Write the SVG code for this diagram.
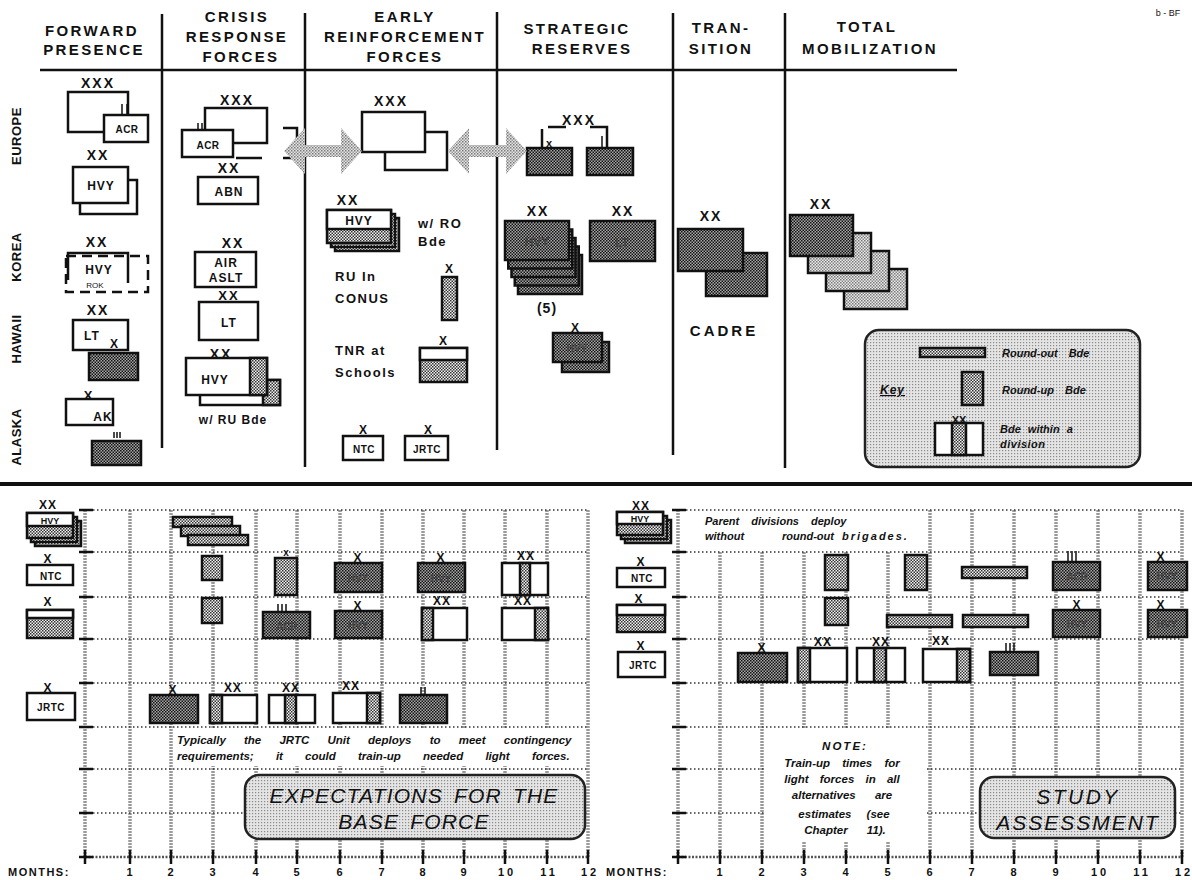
<svg xmlns="http://www.w3.org/2000/svg" width="1192" height="880" viewBox="0 0 1192 880">
<defs>
<pattern id="st" width="3" height="3" patternUnits="userSpaceOnUse"><rect width="3" height="3" fill="#f2f2f2"/><rect width="1.5" height="1.5" fill="#333"/><rect x="1.5" y="1.5" width="1.5" height="1.5" fill="#333"/></pattern>
<pattern id="sd" width="3" height="3" patternUnits="userSpaceOnUse"><rect width="3" height="3" fill="#a8a8a8"/><rect width="1.5" height="1.5" fill="#111"/><rect x="1.5" y="1.5" width="1.5" height="1.5" fill="#111"/></pattern>
<pattern id="sm" width="3" height="3" patternUnits="userSpaceOnUse"><rect width="3" height="3" fill="#ececec"/><rect width="1.5" height="1.5" fill="#777"/><rect x="1.5" y="1.5" width="1.5" height="1.5" fill="#888"/></pattern>
<pattern id="sa" width="3" height="3" patternUnits="userSpaceOnUse"><rect width="3" height="3" fill="#e6e6e6"/><rect width="1.5" height="1.5" fill="#777"/><rect x="1.5" y="1.5" width="1.5" height="1.5" fill="#999"/></pattern>
<pattern id="sl" width="3" height="3" patternUnits="userSpaceOnUse"><rect width="3" height="3" fill="#e4e4e4"/><rect width="1.2" height="1.2" fill="#8a8a8a"/></pattern>
</defs>
<style>
text{font-family:"Liberation Sans",Arial,sans-serif;font-weight:bold;fill:#111}
.h{font-size:15px;letter-spacing:2.4px;text-anchor:middle}
.x{font-size:14px;letter-spacing:2px;text-anchor:middle}
.xs{font-size:12px;letter-spacing:1px;text-anchor:middle}
.l{font-size:12px;letter-spacing:1px;text-anchor:middle}
.s{font-size:10px;letter-spacing:0.5px;text-anchor:middle}
.fa{font-size:10px;text-anchor:middle;fill:#444}
.t{font-size:13px;letter-spacing:1.5px}
.rot{font-size:13px;text-anchor:middle;letter-spacing:0.5px}
.it{font-style:italic;font-size:10.5px}
.nt{font-style:italic;font-size:11.5px;text-anchor:middle}
.ti{font-style:italic;font-weight:normal;font-size:21px;letter-spacing:1.2px;word-spacing:4px;text-anchor:middle}
.mo{font-size:11px;letter-spacing:3px;text-anchor:middle}
.w{fill:#fff;stroke:#111;stroke-width:2.5}
.f{fill:url(#st);stroke:#111;stroke-width:2.5}
.d{fill:url(#sd);stroke:#111;stroke-width:2.5}
.m{fill:url(#sm);stroke:#111;stroke-width:2.5}
.ln{stroke:#111;stroke-width:2.5;fill:none}
.tk{stroke:#111;stroke-width:1.5;fill:none}
.dash{stroke:#111;stroke-width:2.5;fill:none;stroke-dasharray:10 6}
.gv{stroke:#9a9a9a;stroke-width:3.5;stroke-dasharray:2 1;fill:none}
.gh{stroke:#333;stroke-width:1.6;stroke-dasharray:1.5 2.5;fill:none}
.ax{stroke:#555;stroke-width:2.5;stroke-dasharray:2 1.5;fill:none}
.tick{stroke:#111;stroke-width:2.5;fill:none}
.box{fill:url(#sl);stroke:#222;stroke-width:2.5}
</style>
<rect width="1192" height="880" fill="#fff"/>

<!-- header -->
<g id="header">
<text class="h" x="92" y="36">FORWARD</text>
<text class="h" x="94" y="55">PRESENCE</text>
<text class="h" x="237" y="22">CRISIS</text>
<text class="h" x="237" y="42">RESPONSE</text>
<text class="h" x="241" y="62">FORCES</text>
<text class="h" x="405" y="22">EARLY</text>
<text class="h" x="405" y="42">REINFORCEMENT</text>
<text class="h" x="405" y="62">FORCES</text>
<text class="h" x="577" y="34">STRATEGIC</text>
<text class="h" x="582" y="54">RESERVES</text>
<text class="h" x="721" y="33">TRAN-</text>
<text class="h" x="721" y="54">SITION</text>
<text class="h" x="867" y="32">TOTAL</text>
<text class="h" x="870" y="54">MOBILIZATION</text>
<text x="1168" y="16" style="font-size:9px;text-anchor:middle;font-weight:normal">b - BF</text>
<path class="ln" d="M40,70H957"/>
<path class="ln" d="M162,14V448M305,13V467M497,12V450M673,13V455M785,13V468"/>
<path d="M0,484H1192" stroke="#111" stroke-width="4"/>
</g>

<!-- forward presence -->
<g id="region-labels">
<text class="rot" transform="translate(21,136) rotate(-90)">EUROPE</text>
<text class="rot" transform="translate(21,257) rotate(-90)">KOREA</text>
<text class="rot" transform="translate(21,339) rotate(-90)">HAWAII</text>
<text class="rot" transform="translate(21,437) rotate(-90)">ALASKA</text>
</g>
<g id="fp-europe-corps">
<text class="x" x="98" y="88">XXX</text>
<rect class="w" x="68" y="92" width="60" height="40"/>
<rect class="w" x="104" y="115" width="44" height="27"/>
<path class="tk" d="M122,104V115M127,104V115"/>
<text class="s" x="127" y="133">ACR</text>
</g>
<g id="fp-europe-hvy">
<text class="x" x="98" y="160">XX</text>
<rect class="w" x="80" y="180" width="57" height="34"/>
<rect class="w" x="73" y="167" width="55" height="36"/>
<text class="l" x="101" y="190">HVY</text>
</g>
<g id="fp-korea">
<text class="x" x="97" y="247">XX</text>
<rect class="dash" x="66" y="256" width="82" height="36"/>
<path class="ln" d="M68,280V253H128V283"/>
<text class="l" x="99" y="274">HVY</text>
<text x="95" y="288" style="font-size:8px;text-anchor:middle;font-weight:normal">ROK</text>
</g>
<g id="fp-hawaii">
<text class="x" x="98" y="315">XX</text>
<rect class="w" x="73" y="320" width="55" height="30"/>
<text class="l" x="92" y="340">LT</text>
<text x="114" y="348" style="font-size:12px;text-anchor:middle">X</text>
<rect class="d" x="89" y="353" width="49" height="27"/>
</g>
<g id="fp-alaska">
<text x="88" y="400" style="font-size:13px;text-anchor:middle">X</text>
<rect class="w" x="66" y="399" width="47" height="26"/>
<text class="l" x="103" y="421">AK</text>
<path class="tk" d="M114,432V438M117,432V438M120,432V438"/>
<rect class="d" x="92" y="441" width="49" height="24"/>
</g>

<!-- crisis response -->
<g id="cr-corps">
<text class="x" x="237" y="105">XXX</text>
<rect class="w" x="205" y="108" width="62" height="35"/>
<rect class="w" x="182" y="130" width="51" height="27"/>
<path class="tk" d="M198,123V130M202,123V130"/>
<text class="s" x="208" y="149">ACR</text>
<path class="ln" d="M283,128H297V146"/>
<path class="ln" d="M236,158H262M283,158H298"/>
</g>
<g id="cr-abn">
<text class="x" x="229" y="173">XX</text>
<rect class="w" x="198" y="177" width="60" height="27"/>
<text class="l" x="229" y="196">ABN</text>
</g>
<g id="cr-airaslt">
<text class="x" x="233" y="248">XX</text>
<rect class="w" x="195" y="252" width="61" height="35"/>
<text class="l" x="226" y="267">AIR</text>
<text class="l" x="226" y="282">ASLT</text>
</g>
<g id="cr-lt">
<text class="x" x="229" y="300" style="font-size:13px">XX</text>
<rect class="w" x="199" y="302" width="59" height="38"/>
<text class="l" x="229" y="327">LT</text>
</g>
<g id="cr-hvy">
<text class="x" x="221" y="359">XX</text>
<rect class="w" x="200" y="380" width="80" height="25"/>
<rect class="f" x="263" y="380" width="17" height="25"/>
<rect class="w" x="186" y="358" width="81" height="37"/>
<rect class="f" x="250" y="358" width="17" height="37"/>
<text class="l" x="215" y="384">HVY</text>
<text class="l" x="233" y="424">w/ RU Bde</text>
</g>

<!-- early reinforcement -->
<g id="er-corps">
<text class="x" x="391" y="106">XXX</text>
<rect class="w" x="385" y="132" width="62" height="38"/>
<rect class="w" x="362" y="112" width="63" height="40"/>
</g>
<g id="er-hvy-ro">
<text class="x" x="348" y="205">XX</text>
<rect class="f" x="335" y="218" width="64" height="33"/>
<rect class="f" x="331" y="214" width="64" height="33"/>
<rect class="f" x="327" y="210" width="64" height="33"/>
<rect class="w" x="327" y="210" width="64" height="19"/>
<text class="l" x="359" y="225">HVY</text>
<text class="t" x="418" y="228">w/ RO</text>
<text class="t" x="418" y="246">Bde</text>
</g>
<g id="er-ru">
<text class="t" x="335" y="281">RU In</text>
<text class="t" x="335" y="303">CONUS</text>
<text x="449" y="273" style="font-size:12px;text-anchor:middle">X</text>
<rect class="f" x="442" y="277" width="15" height="43"/>
</g>
<g id="er-tnr">
<text class="t" x="335" y="355">TNR at</text>
<text class="t" x="335" y="377">Schools</text>
<text x="443" y="345" style="font-size:12px;text-anchor:middle">X</text>
<rect class="f" x="420" y="348" width="47" height="34"/>
<rect class="w" x="420" y="348" width="47" height="12"/>
</g>
<g id="er-ntc">
<text x="363" y="434" style="font-size:12px;text-anchor:middle">X</text>
<rect class="w" x="343" y="436" width="40" height="24"/>
<text class="s" x="364" y="453">NTC</text>
</g>
<g id="er-jrtc">
<text x="428" y="434" style="font-size:12px;text-anchor:middle">X</text>
<rect class="w" x="405" y="436" width="43" height="24"/>
<text class="s" x="427" y="453">JRTC</text>
</g>

<!-- strategic reserves -->
<g id="sr-corps">
<text class="x" x="579" y="125">XXX</text>
<path class="ln" d="M542,148V129M548,127H566M590,127H607V148"/>
<path class="tk" d="M602,136V148"/>
<rect class="d" x="527" y="148" width="45" height="27"/>
<text x="549" y="147" style="font-size:11px;text-anchor:middle">x</text>
<rect class="d" x="587" y="148" width="46" height="27"/>
</g>
<g id="sr-hvy5">
<text class="x" x="538" y="216">XX</text>
<rect class="d" x="518" y="255" width="64" height="39"/>
<rect class="d" x="514.75" y="246.5" width="64" height="39"/>
<rect class="d" x="511.5" y="238" width="64" height="39"/>
<rect class="d" x="508.25" y="229.5" width="64" height="39"/>
<rect class="d" x="505" y="221" width="64" height="39"/>
<text class="fa" x="537" y="246" style="font-size:12px">HVY</text>
<text class="x" x="547" y="313" style="letter-spacing:1px">(5)</text>
</g>
<g id="sr-lt">
<text class="x" x="623" y="216">XX</text>
<rect class="d" x="590" y="221" width="65" height="40"/>
<text class="fa" x="622" y="247" style="font-size:12px">LT</text>
</g>
<g id="sr-hvybde">
<text x="575" y="332" style="font-size:12px;text-anchor:middle">X</text>
<rect class="d" x="562" y="342" width="47" height="30"/>
<rect class="d" x="553" y="333" width="49" height="29"/>
<text class="fa" x="577" y="352">HVY</text>
</g>

<!-- transition -->
<g id="tr-cadre">
<text class="x" x="711" y="221">XX</text>
<rect class="d" x="706" y="253" width="61" height="43"/>
<rect class="d" x="678" y="229" width="65" height="42"/>
<text x="724" y="336" style="font-size:15px;letter-spacing:3px;text-anchor:middle">CADRE</text>
</g>

<!-- total mobilization -->
<g id="tm-divs">
<text class="x" x="821" y="209">XX</text>
<rect class="m" x="844" y="269" width="63" height="40"/>
<rect class="m" x="826" y="251" width="63" height="40"/>
<rect class="m" x="808" y="233" width="63" height="40"/>
<rect class="d" x="790" y="215" width="63" height="41"/>
</g>

<!-- key -->
<g id="key">
<rect class="box" x="865" y="330" width="275" height="137" rx="14"/>
<rect class="f" x="920" y="348" width="65" height="9"/>
<text class="it" x="1002" y="357" style="font-size:11px;word-spacing:8px">Round-out Bde</text>
<text class="it" x="880" y="394" style="font-size:12px;text-decoration:underline;letter-spacing:1px">Key</text>
<rect class="f" x="962" y="372" width="21" height="33"/>
<text class="it" x="1002" y="394" style="font-size:11px;word-spacing:8px">Round-up Bde</text>
<rect class="w" x="935" y="423" width="48" height="32"/>
<rect class="f" x="952" y="423" width="14" height="32"/>
<text x="959" y="424" style="font-size:11px;text-anchor:middle">XX</text>
<text class="it" x="1000" y="433" style="font-size:11px;word-spacing:4px">Bde within a</text>
<text class="it" x="1000" y="448" style="font-size:11px;letter-spacing:0.5px">division</text>
</g>

<!-- connectors -->
<g id="connectors">
<polygon fill="url(#sa)" points="284,151 305,128 305,145 341,145 341,128 362,151 341,174 341,157 305,157 305,174"/>
<polygon fill="url(#sa)" points="448,151 469,128 469,145 506,145 506,128 527,151 506,174 506,157 469,157 469,174"/>
</g>

<!-- bottom left grid -->
<g id="grid-left">
<path class="gv" d="M130,510V857M171,510V857M213,510V857M256,510V857M297,510V857M340,510V857M382,510V857M423,510V857M464,510V857M505,510V857M547,510V857M588,510V857"/>
<path class="gv" d="M85,510V857"/>
<path class="gh" d="M85,510H588M85,552H588M85,597H588M85,639H588M85,683H588M85,727H588M85,769H588M85,813H588"/>
<path class="ax" d="M85,857H588"/>
<path class="tick" d="M79,510H93M79,552H93M79,597H93M79,639H93M79,683H93M79,727H93M79,769H93M79,813H93M79,857H93"/>
<path class="tick" d="M85,850V864M130,850V864M171,850V864M213,850V864M256,850V864M297,850V864M340,850V864M382,850V864M423,850V864M464,850V864M505,850V864M547,850V864M588,850V864"/>
<text x="8" y="876" style="font-size:11px;letter-spacing:1.5px">MONTHS:</text>
<text class="mo" x="131" y="876">1</text><text class="mo" x="172" y="876">2</text><text class="mo" x="214" y="876">3</text><text class="mo" x="257" y="876">4</text><text class="mo" x="298" y="876">5</text><text class="mo" x="341" y="876">6</text><text class="mo" x="383" y="876">7</text><text class="mo" x="424" y="876">8</text><text class="mo" x="465" y="876">9</text><text class="mo" x="507" y="876">10</text><text class="mo" x="549" y="876">11</text><text class="mo" x="590" y="876">12</text>
</g>
<g id="bl-row-labels">
<text class="xs" x="48" y="509">XX</text>
<rect class="f" x="35" y="521" width="46" height="25"/>
<rect class="f" x="31" y="517" width="46" height="25"/>
<rect class="f" x="27" y="513" width="46" height="25"/>
<rect class="w" x="27" y="513" width="46" height="13"/>
<text x="50" y="524" style="font-size:9px;text-anchor:middle">HVY</text>
<text class="xs" x="48" y="563">X</text>
<rect class="w" x="27" y="565" width="46" height="20"/>
<text class="s" x="51" y="580">NTC</text>
<text class="xs" x="48" y="606">X</text>
<rect class="f" x="27" y="610" width="46" height="28"/>
<rect class="w" x="27" y="610" width="46" height="8"/>
<text class="xs" x="48" y="692">X</text>
<rect class="w" x="27" y="693" width="48" height="27"/>
<text class="s" x="51" y="711">JRTC</text>
</g>
<g id="bl-row1">
<rect class="f" x="173" y="517" width="59" height="10"/>
<rect class="f" x="181" y="526" width="59" height="10"/>
<rect class="f" x="188" y="535" width="60" height="10"/>
</g>
<g id="bl-row2">
<rect class="f" x="202" y="556" width="20" height="24"/>
<text x="286" y="556" style="font-size:10px;text-anchor:middle">x</text>
<rect class="f" x="275" y="558" width="22" height="37"/>
<text class="xs" x="358" y="562">X</text>
<rect class="d" x="335" y="563" width="47" height="29"/>
<text class="fa" x="358" y="582">HVY</text>
<text class="xs" x="441" y="562">X</text>
<rect class="d" x="418" y="563" width="47" height="29"/>
<text class="fa" x="441" y="582">HVY</text>
<text class="xs" x="526" y="560">XX</text>
<rect class="w" x="502" y="563" width="46" height="32"/>
<rect class="f" x="520" y="563" width="10" height="32"/>
</g>
<g id="bl-row3">
<rect class="f" x="202" y="598" width="20" height="25"/>
<path class="tk" d="M278,604V612M282,604V612M286,604V612"/>
<rect class="d" x="263" y="612" width="47" height="26"/>
<text class="fa" x="287" y="630">ACR</text>
<text class="xs" x="358" y="610">X</text>
<rect class="d" x="335" y="611" width="47" height="27"/>
<text class="fa" x="358" y="629">HVY</text>
<text class="xs" x="442" y="605">XX</text>
<rect class="w" x="422" y="608" width="45" height="32"/>
<rect class="f" x="422" y="608" width="11" height="32"/>
<text class="xs" x="523" y="605">XX</text>
<rect class="w" x="502" y="608" width="46" height="32"/>
<rect class="f" x="535" y="608" width="13" height="32"/>
</g>
<g id="bl-row5">
<text class="xs" x="173" y="694">X</text>
<rect class="d" x="150" y="695" width="48" height="28"/>
<text class="xs" x="233" y="692">XX</text>
<rect class="w" x="210" y="695" width="47" height="28"/>
<rect class="f" x="210" y="695" width="12" height="28"/>
<text class="xs" x="291" y="692">XX</text>
<rect class="w" x="269" y="695" width="46" height="28"/>
<rect class="f" x="285" y="695" width="11" height="28"/>
<text class="xs" x="351" y="690">XX</text>
<rect class="w" x="333" y="693" width="47" height="30"/>
<rect class="f" x="367" y="693" width="13" height="30"/>
<path class="tk" d="M421,687V695M425,687V695"/>
<rect class="d" x="400" y="695" width="47" height="28"/>
</g>
<g id="bl-note">
<rect x="175" y="729" width="410" height="37" fill="#fff"/>
<text class="it" x="177" y="744" style="font-size:11.5px;word-spacing:15px">Typically the JRTC Unit deploys to meet contingency</text>
<text class="it" x="177" y="760" style="font-size:11.5px;word-spacing:19px">requirements; it could train-up needed light forces.</text>
</g>
<g id="bl-title">
<rect class="box" x="245" y="775" width="340" height="64" rx="14"/>
<text class="ti" x="414" y="803">EXPECTATIONS FOR THE</text>
<text class="ti" x="414" y="829">BASE FORCE</text>
</g>

<!-- bottom right grid -->
<g id="grid-right">
<path class="gv" d="M930,510V857M972,510V857M1014,510V857M1056,510V857M1098,510V857M1140,510V857M1182,510V857"/>
<path class="gv" d="M720,552V857M762,552V857M804,552V728M846,552V728M888,552V728M804,842V857M846,842V857M888,842V857"/>
<path class="gv" d="M678,510V857"/>
<path class="gh" d="M678,510H1182M678,552H1182M678,597H1182M678,639H1182M678,683H1182M678,727H1182M678,769H766M927,769H1182M678,813H766M927,813H1182"/>
<path class="ax" d="M678,857H1182"/>
<path class="tick" d="M672,510H686M672,552H686M672,597H686M672,639H686M672,683H686M672,727H686M672,769H686M672,813H686M672,857H686"/>
<path class="tick" d="M678,850V864M720,850V864M762,850V864M804,850V864M846,850V864M888,850V864M930,850V864M972,850V864M1014,850V864M1056,850V864M1098,850V864M1140,850V864M1182,850V864"/>
<text x="606" y="876" style="font-size:11px;letter-spacing:1.5px">MONTHS:</text>
<text class="mo" x="721" y="876">1</text><text class="mo" x="763" y="876">2</text><text class="mo" x="805" y="876">3</text><text class="mo" x="847" y="876">4</text><text class="mo" x="889" y="876">5</text><text class="mo" x="931" y="876">6</text><text class="mo" x="973" y="876">7</text><text class="mo" x="1015" y="876">8</text><text class="mo" x="1057" y="876">9</text><text class="mo" x="1100" y="876">10</text><text class="mo" x="1142" y="876">11</text><text class="mo" x="1184" y="876">12</text>
</g>
<g id="br-row-labels">
<text class="xs" x="641" y="510">XX</text>
<rect class="f" x="625" y="520" width="46" height="23"/>
<rect class="f" x="621" y="516" width="46" height="23"/>
<rect class="f" x="617" y="512" width="46" height="23"/>
<rect class="w" x="617" y="512" width="46" height="12"/>
<text x="640" y="522" style="font-size:9px;text-anchor:middle">HVY</text>
<text class="xs" x="641" y="566">X</text>
<rect class="w" x="617" y="568" width="48" height="19"/>
<text class="s" x="642" y="582">NTC</text>
<text class="xs" x="639" y="603">X</text>
<rect class="f" x="617" y="605" width="48" height="27"/>
<rect class="w" x="617" y="605" width="48" height="10"/>
<text class="xs" x="641" y="650">X</text>
<rect class="w" x="618" y="652" width="47" height="25"/>
<text class="s" x="643" y="669">JRTC</text>
</g>
<g id="br-top-note">
<rect x="682" y="513" width="244" height="36" fill="#fff"/>
<text class="it" x="705" y="525" style="font-size:11px;word-spacing:9px">Parent divisions deploy</text>
<text class="it" x="705" y="540" style="font-size:11px">without<tspan x="782">round-out</tspan><tspan x="842" style="letter-spacing:2px">brigades.</tspan></text>
</g>
<g id="br-row-ntc">
<rect class="f" x="825" y="555" width="23" height="35"/>
<rect class="f" x="905" y="555" width="22" height="35"/>
<rect class="f" x="962" y="567" width="65" height="11"/>
<path class="tk" d="M1068,551V562M1072,551V562M1076,551V562"/>
<rect class="d" x="1053" y="562" width="47" height="28"/>
<text class="fa" x="1077" y="580">ACR</text>
<text class="xs" x="1161" y="561">X</text>
<rect class="d" x="1148" y="562" width="39" height="28"/>
<text class="fa" x="1167" y="580">HVY</text>
</g>
<g id="br-row-tnr">
<rect class="f" x="825" y="598" width="23" height="27"/>
<rect class="f" x="887" y="615" width="65" height="12"/>
<rect class="f" x="963" y="615" width="65" height="12"/>
<text class="xs" x="1077" y="609">X</text>
<rect class="d" x="1053" y="610" width="47" height="27"/>
<text class="fa" x="1077" y="628">HVY</text>
<text class="xs" x="1161" y="609">X</text>
<rect class="d" x="1148" y="610" width="39" height="27"/>
<text class="fa" x="1167" y="628">HVY</text>
</g>
<g id="br-row-jrtc">
<text class="xs" x="762" y="652">X</text>
<rect class="d" x="738" y="653" width="49" height="29"/>
<text class="xs" x="823" y="646">XX</text>
<rect class="w" x="798" y="648" width="49" height="34"/>
<rect class="f" x="798" y="648" width="12" height="34"/>
<text class="xs" x="881" y="646">XX</text>
<rect class="w" x="857" y="648" width="48" height="34"/>
<rect class="f" x="874" y="648" width="12" height="34"/>
<text class="xs" x="941" y="645">XX</text>
<rect class="w" x="923" y="649" width="47" height="33"/>
<rect class="f" x="957" y="649" width="13" height="33"/>
<path class="tk" d="M1006,643V652M1010,643V652M1014,643V652"/>
<rect class="d" x="990" y="652" width="48" height="23"/>
</g>
<g id="br-note">
<rect x="766" y="729" width="161" height="113" fill="#fff"/>
<text class="nt" x="845" y="750" style="letter-spacing:2px">NOTE:</text>
<text class="nt" x="842" y="767" style="word-spacing:9px">Train-up times for</text>
<text class="nt" x="842" y="783" style="word-spacing:8px">light forces in all</text>
<text class="nt" x="842" y="799" style="word-spacing:16px">alternatives are</text>
<text class="nt" x="844" y="818" style="word-spacing:12px">estimates (see</text>
<text class="nt" x="845" y="834" style="word-spacing:16px">Chapter 11).</text>
</g>
<g id="br-title">
<rect class="box" x="980" y="777" width="195" height="61" rx="14"/>
<text class="ti" x="1078" y="804" style="letter-spacing:2.5px">STUDY</text>
<text class="ti" x="1078" y="830" style="letter-spacing:2px">ASSESSMENT</text>
</g>
</svg>
